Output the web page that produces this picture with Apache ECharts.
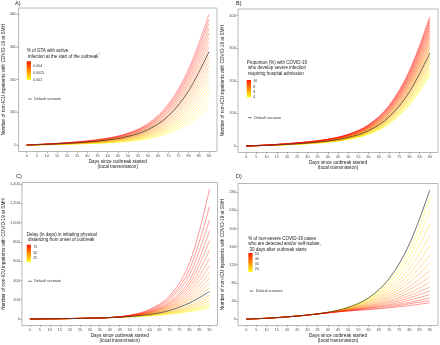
<!DOCTYPE html>
<html>
<head>
<meta charset="utf-8">
<script src="https://cdn.jsdelivr.net/npm/echarts@6/dist/echarts.min.js"></script>
<style>
html, body { margin: 0; padding: 0; background: #fff; }
#chart { width: 440px; height: 345px; }
</style>
</head>
<body>
<div id="chart"></div>
<script>
// days sampled along every curve
const days = [0, 10, 20, 30, 40, 50, 60, 70, 80, 90];
const xTicks = [0, 5, 10, 15, 20, 25, 30, 35, 40, 45, 50, 55, 60, 65, 70, 75, 80, 85, 90];
const yTicksA = [0, 100, 200, 300, 400];
const yTicksB = [0, 100, 200, 300, 400];
const yTicksC = [0, 200, 400, 600, 800, 1000, 1200, 1400];
const yTicksD = [0, 40, 80, 120, 160, 200, 240, 280];

// default scenario, same in all 4 panels
const defaultCurve = [0, 2, 5, 9, 15, 26, 47, 89, 166, 285];

// scenario lines, ordered from yellow (low end of colour scale) to red
const scenarioA = [
    [0, 1, 2, 4, 6, 10, 19, 36, 66, 114],
    [0, 1, 2, 4, 7, 12, 21, 40, 75, 128],
    [0, 1, 3, 5, 8, 13, 24, 45, 83, 143],
    [0, 1, 3, 5, 8, 14, 26, 49, 91, 157],
    [0, 1, 3, 5, 9, 16, 28, 53, 100, 171],
    [0, 1, 3, 6, 10, 17, 31, 58, 108, 185],
    [0, 1, 4, 6, 11, 18, 33, 62, 116, 200],
    [0, 2, 4, 7, 11, 20, 35, 67, 125, 214],
    [0, 2, 4, 7, 12, 21, 38, 71, 133, 228],
    [0, 2, 4, 8, 13, 22, 40, 76, 141, 242],
    [0, 2, 5, 8, 14, 23, 42, 80, 149, 257],
    [0, 2, 5, 9, 14, 25, 45, 85, 158, 271],
    [0, 2, 5, 9, 15, 26, 47, 89, 166, 285],
    [0, 2, 5, 9, 16, 27, 49, 93, 174, 299],
    [0, 2, 6, 10, 17, 29, 52, 98, 183, 314],
    [0, 2, 6, 10, 17, 30, 54, 102, 191, 328],
    [0, 2, 6, 11, 18, 31, 56, 107, 199, 342],
    [0, 3, 6, 11, 19, 33, 59, 111, 208, 356],
    [0, 3, 7, 12, 20, 34, 61, 116, 216, 371],
    [0, 3, 7, 12, 20, 35, 63, 120, 224, 385],
    [0, 3, 7, 13, 21, 36, 66, 125, 232, 399]
];
const scenarioB = [
    [0, 2, 4, 7, 11, 20, 36, 68, 126, 217],
    [0, 2, 4, 7, 12, 21, 37, 70, 131, 225],
    [0, 2, 4, 7, 12, 21, 39, 73, 136, 234],
    [0, 2, 4, 8, 13, 22, 40, 76, 141, 242],
    [0, 2, 4, 8, 13, 23, 41, 78, 146, 251],
    [0, 2, 5, 8, 14, 24, 43, 81, 151, 259],
    [0, 2, 5, 8, 14, 24, 44, 84, 156, 268],
    [0, 2, 5, 9, 15, 25, 46, 86, 161, 276],
    [0, 2, 5, 9, 15, 26, 47, 89, 166, 285],
    [0, 2, 5, 9, 15, 27, 48, 92, 171, 294],
    [0, 2, 5, 10, 16, 28, 50, 94, 176, 302],
    [0, 2, 5, 10, 16, 28, 51, 97, 181, 311],
    [0, 2, 6, 10, 17, 29, 53, 100, 186, 319],
    [0, 2, 6, 10, 17, 30, 54, 102, 191, 328],
    [0, 2, 6, 11, 18, 31, 55, 105, 196, 336],
    [0, 2, 6, 11, 18, 31, 57, 108, 201, 345],
    [0, 2, 6, 11, 19, 32, 58, 110, 206, 353],
    [0, 3, 6, 11, 19, 33, 60, 113, 211, 362],
    [0, 3, 7, 12, 20, 34, 61, 116, 216, 371],
    [0, 3, 7, 12, 20, 35, 63, 118, 221, 379],
    [0, 3, 7, 12, 20, 35, 64, 121, 226, 388],
    [0, 3, 7, 13, 21, 36, 65, 124, 231, 396]
];
const scenarioC = [
    [0, 2, 5, 9, 15, 23, 34, 51, 76, 114],
    [0, 2, 5, 9, 15, 23, 35, 55, 84, 129],
    [0, 2, 5, 9, 15, 24, 37, 59, 93, 146],
    [0, 2, 5, 9, 15, 24, 39, 63, 103, 166],
    [0, 2, 5, 9, 15, 25, 41, 69, 114, 190],
    [0, 2, 5, 9, 15, 26, 44, 75, 127, 217],
    [0, 2, 5, 9, 15, 26, 46, 81, 142, 248],
    [0, 2, 5, 9, 15, 28, 51, 95, 176, 326],
    [0, 2, 5, 9, 15, 29, 54, 103, 196, 372],
    [0, 2, 5, 9, 15, 29, 57, 111, 217, 424],
    [0, 2, 5, 9, 15, 30, 60, 121, 242, 484],
    [0, 2, 5, 9, 15, 31, 63, 131, 269, 552],
    [0, 2, 5, 9, 15, 32, 67, 141, 298, 630],
    [0, 2, 5, 9, 15, 33, 71, 153, 331, 718],
    [0, 2, 5, 9, 15, 33, 74, 165, 366, 814],
    [0, 2, 5, 9, 15, 34, 78, 177, 402, 914],
    [0, 2, 5, 9, 15, 36, 86, 200, 460, 1028],
    [0, 2, 5, 9, 16, 38, 93, 218, 516, 1166],
    [0, 2, 5, 9, 16, 40, 100, 240, 580, 1348]
];
const scenarioD = [
    [0, 2, 5, 9, 15, 26, 47, 85, 151, 268],
    [0, 2, 5, 9, 15, 26, 45, 79, 138, 240],
    [0, 2, 5, 9, 15, 25, 43, 73, 124, 210],
    [0, 2, 5, 9, 15, 25, 41, 68, 111, 184],
    [0, 2, 5, 9, 15, 24, 39, 62, 100, 161],
    [0, 2, 5, 9, 15, 23, 37, 58, 90, 141],
    [0, 2, 5, 9, 15, 23, 35, 53, 81, 123],
    [0, 2, 5, 9, 15, 22, 33, 49, 72, 107],
    [0, 2, 5, 9, 14, 22, 31, 45, 65, 93],
    [0, 2, 5, 9, 14, 21, 29, 41, 58, 81],
    [0, 2, 5, 9, 14, 20, 28, 38, 52, 71],
    [0, 2, 5, 9, 14, 20, 26, 35, 47, 62],
    [0, 2, 5, 9, 14, 19, 25, 32, 42, 54],
    [0, 2, 5, 9, 14, 19, 24, 30, 37, 47],
    [0, 2, 5, 9, 14, 18, 22, 27, 34, 41],
    [0, 2, 5, 9, 14, 18, 21, 25, 30, 36]
];

// colour bar labels (top to bottom)
const legendLabelsA = ['0.004', '0.0025', '0.001'];
const legendLabelsB = ['10', '8', '6', '4'];
const legendLabelsC = ['75', '50', '25'];
const legendLabelsD = ['50', '40', '30', '20'];

const FONT = '"Liberation Sans", Arial, sans-serif';
const yTitle = 'Number of non-ICU inpatients with COVID-19 at SMH';
const xTitle = 'Days since outbreak started\n(local transmission)';

function ramp(t) {
    let g = Math.round(255 * (1 - t));
    return 'rgb(255,' + g + ',0)';
}

let panels = [
    { grid: { left: 17.5, top: 8, width: 199.5, height: 143.5 }, yMin: -20, yMax: 419, ticks: yTicksA, rows: scenarioA, alpha: 0.45 },
    { grid: { left: 238, top: 9, width: 200, height: 143.5 }, yMin: -20, yMax: 420, ticks: yTicksB, rows: scenarioB, alpha: 0.6 },
    { grid: { left: 19, top: 182.5, width: 198.5, height: 143.5 }, yMin: -67, yMax: 1415, ticks: yTicksC, rows: scenarioC, alpha: 0.5 },
    { grid: { left: 238, top: 183.5, width: 200, height: 142 }, yMin: -14, yMax: 299, ticks: yTicksD, rows: scenarioD, alpha: 0.5 }
];

let grids = [], xAxes = [], yAxes = [], series = [];
panels.forEach(function (p, idx) {
    grids.push(Object.assign({ show: true, borderColor: '#a6a6a6', borderWidth: 0.8, backgroundColor: '#fff' }, p.grid));
    xAxes.push({
        type: 'value', gridIndex: idx, min: -4, max: 94,
        axisLine: { show: false, onZero: false }, splitLine: { show: false },
        axisTick: { show: true, length: 1.5, customValues: xTicks, lineStyle: { color: '#555', width: 0.5 } },
        axisLabel: { customValues: xTicks, fontSize: 3.7, color: '#4d4d4d', margin: 2, fontFamily: FONT },
        name: xTitle, nameLocation: 'middle', nameGap: 6.5,
        nameTextStyle: { fontSize: 4.7, lineHeight: 5.8, color: '#1a1a1a', fontFamily: FONT, verticalAlign: 'top' }
    });
    yAxes.push({
        type: 'value', gridIndex: idx, min: p.yMin, max: p.yMax,
        axisLine: { show: false, onZero: false }, splitLine: { show: false },
        axisTick: { show: true, length: 1.5, customValues: p.ticks, lineStyle: { color: '#555', width: 0.5 } },
        axisLabel: { customValues: p.ticks, fontSize: 4, color: '#4d4d4d', margin: 2, fontFamily: FONT },
        name: yTitle, nameLocation: 'middle', nameGap: idx === 2 ? 11 : 8.5,
        nameTextStyle: { fontSize: 4.7, color: '#1a1a1a', fontFamily: FONT }
    });
    p.rows.forEach(function (row, i) {
        series.push({
            type: 'line', xAxisIndex: idx, yAxisIndex: idx,
            data: row.map(function (v, k) { return [days[k], v]; }),
            smooth: 0.35, showSymbol: false, silent: true,
            lineStyle: { color: ramp(i / (p.rows.length - 1)), width: 0.8, opacity: p.alpha }
        });
    });
    series.push({
        type: 'line', xAxisIndex: idx, yAxisIndex: idx,
        data: defaultCurve.map(function (v, k) { return [days[k], v]; }),
        smooth: 0.35, showSymbol: false, silent: true, z: 5,
        lineStyle: { color: '#333', width: 0.7 }
    });
});

function txt(x, y, text, size, color) {
    return { type: 'text', x: x, y: y, z: 100,
        style: { text: text, font: size + 'px ' + FONT, fill: color || '#1a1a1a', align: 'left', verticalAlign: 'middle' } };
}

// legend block: title lines, colour bar, labels, default scenario key
function legendBlock(x, titleLines, titleY, lineGap, bar, labels, labelYs, defY) {
    let out = [];
    titleLines.forEach(function (t, i) {
        out.push(txt(x, titleY + i * lineGap, t, 4.5));
    });
    out.push({ type: 'rect', z: 100, shape: { x: x, y: bar[0], width: 4.3, height: bar[1] - bar[0] },
        style: { fill: { type: 'linear', x: 0, y: 0, x2: 0, y2: 1,
            colorStops: [{ offset: 0, color: '#ff1a00' }, { offset: 0.5, color: '#ff8c00' }, { offset: 1, color: '#ffff20' }] } } });
    labels.forEach(function (l, i) {
        out.push(txt(x + 6.5, labelYs[i], l, 3.6, '#333'));
    });
    out.push({ type: 'line', z: 100, shape: { x1: x + 1.5, y1: defY, x2: x + 5, y2: defY }, style: { stroke: '#333', lineWidth: 0.7 } });
    out.push(txt(x + 7.5, defY, 'Default scenario', 3.7, '#333'));
    return out;
}

let graphics = [
    txt(15, 3.5, 'A)', 5.5), txt(236, 3.5, 'B)', 5.5), txt(16, 176, 'C)', 5.5), txt(236, 176, 'D)', 5.5)
];
graphics = graphics.concat(
    legendBlock(26.7, ['% of GTA with active'], 50.7, 6.3, [61.3, 80], legendLabelsA, [66.3, 73, 79.7], 99),
    [{ type: 'text', x: 26.7, y: 57, z: 100, style: { text: ' infection at the start of the outbreak{s|*}', font: '4.5px ' + FONT, fill: '#1a1a1a',
        align: 'left', verticalAlign: 'middle', rich: { s: { fontSize: 3, verticalAlign: 'top', padding: [0, 0, 3, 0] } } } }],
    legendBlock(246.7, ['Proportion (%) with COVID-19', ' who develop severe infection', ' requiring hospital admission'], 62.3, 5.9,
        [80, 97.5], legendLabelsB, [81.3, 86.7, 92, 97.3], 117.7),
    legendBlock(26.7, ['Delay (in days) in initiating physical', ' distancing from onset of outbreak'], 234.3, 5.8,
        [244.7, 262], legendLabelsC, [247.3, 252.7, 258.3], 281.3),
    legendBlock(248.3, ['% of non-severe COVID-19 cases', 'who are detected and/or self-isolate,', ' 30 days after outbreak starts'], 238.7, 5.5,
        [253, 272], legendLabelsD, [254, 259, 264, 268.7], 291)
);

let chart = echarts.init(document.getElementById('chart'), null, { renderer: 'canvas' });
chart.setOption({
    animation: false,
    backgroundColor: '#fff',
    grid: grids,
    xAxis: xAxes,
    yAxis: yAxes,
    series: series,
    graphic: graphics
});
</script>
</body>
</html>
